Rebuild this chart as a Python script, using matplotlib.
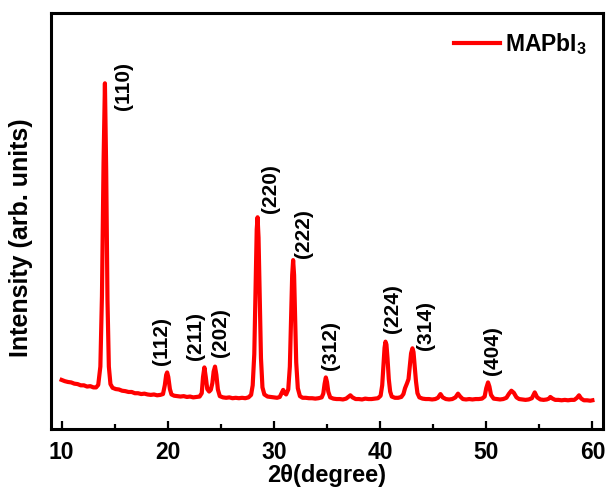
import matplotlib
matplotlib.use("Agg")
import matplotlib.pyplot as plt

plt.rcParams["font.family"] = ["Liberation Sans", "DejaVu Sans"]
plt.rcParams["font.weight"] = "bold"
plt.rcParams["mathtext.fontset"] = "custom"
plt.rcParams["mathtext.rm"] = "Liberation Sans:bold"
plt.rcParams["mathtext.bf"] = "Liberation Sans:bold"

# XRD pattern of MAPbI3 film (2-theta in degrees, intensity in arbitrary units)
two_theta = [
    10.0, 10.3, 10.6, 10.9, 11.2, 11.5, 11.8, 12.1, 12.4, 12.7, 13.0, 13.25,
    13.45, 13.65, 13.8, 13.95, 14.08, 14.2, 14.32, 14.45, 14.6, 14.8,
    15.1, 15.4, 15.7, 16.0, 16.3, 16.6, 16.9, 17.2, 17.5, 17.8, 18.1, 18.4,
    18.7, 19.0, 19.3, 19.55, 19.72, 19.85, 19.94, 20.05, 20.2, 20.35,
    20.6, 20.9, 21.2, 21.5, 21.8, 22.1, 22.4, 22.7, 23.0, 23.2,
    23.32, 23.45, 23.58, 23.72, 23.9, 24.05, 24.2, 24.32, 24.45, 24.58, 24.72,
    24.9, 25.2, 25.5, 25.8, 26.1, 26.4, 26.7, 27.0, 27.3, 27.6, 27.85,
    28.0, 28.15, 28.28, 28.38, 28.46, 28.55, 28.65, 28.78, 28.92,
    29.1, 29.4, 29.7, 30.0, 30.3, 30.55, 30.72, 30.87, 31.0, 31.15,
    31.35, 31.5, 31.62, 31.72, 31.81, 31.9, 32.0, 32.1, 32.25,
    32.45, 32.7, 33.0, 33.3, 33.6, 33.9, 34.2, 34.5, 34.65, 34.77, 34.89,
    35.0, 35.12, 35.3, 35.6, 35.9, 36.2, 36.5, 36.8, 37.0, 37.2, 37.4,
    37.7, 38.0, 38.3, 38.6, 38.9, 39.2, 39.5, 39.8, 40.05, 40.2, 40.32,
    40.42, 40.51, 40.6, 40.7, 40.82, 40.95, 41.1, 41.4, 41.7, 42.0, 42.2,
    42.35, 42.54, 42.68, 42.8, 42.92, 43.05, 43.15, 43.25, 43.38, 43.52,
    43.7, 44.0, 44.3, 44.6, 44.9, 45.2, 45.45, 45.69, 45.9, 46.2, 46.5,
    46.8, 47.1, 47.34, 47.55, 47.8, 48.1, 48.4, 48.7, 49.0, 49.3, 49.6,
    49.85, 50.0, 50.17, 50.3, 50.45, 50.7, 51.0, 51.3, 51.6, 51.9, 52.15,
    52.37, 52.6, 52.85, 53.1, 53.4, 53.7, 54.0, 54.3, 54.57, 54.8, 55.1,
    55.4, 55.7, 55.9, 56.04, 56.25, 56.5, 56.8, 57.1, 57.4, 57.7, 58.0,
    58.3, 58.55, 58.74, 58.95, 59.2, 59.5, 59.8, 60.0,
]
intensity = [
    11.8, 11.5, 11.3, 11.2, 10.9, 10.8, 10.5, 10.5, 10.2, 10.3, 10.0, 10.0,
    10.6, 15.0, 32.0, 64.0, 83.1, 62.0, 31.0, 15.0, 10.8, 9.9,
    9.6, 9.5, 9.2, 9.1, 8.9, 8.9, 8.6, 8.6, 8.4, 8.5, 8.3, 8.2,
    8.3, 8.1, 8.2, 8.4, 10.5, 13.0, 13.6, 12.5, 9.6, 8.3,
    8.0, 7.9, 7.8, 7.9, 7.7, 7.8, 7.6, 7.7, 7.8, 8.6,
    12.5, 14.8, 12.5, 9.6, 9.0, 9.4, 11.0, 13.8, 15.0, 13.0, 9.5,
    7.9, 7.6, 7.5, 7.6, 7.4, 7.5, 7.4, 7.5, 7.4, 7.6, 8.2,
    10.5, 18.0, 35.0, 48.0, 50.9, 46.0, 33.0, 17.0, 10.0,
    8.3, 7.8, 7.7, 7.6, 7.5, 7.7, 8.6, 9.4, 8.7, 8.3,
    9.5, 15.0, 27.0, 37.0, 40.6, 37.0, 27.0, 16.0, 9.8,
    7.9, 7.5, 7.5, 7.4, 7.4, 7.3, 7.4, 7.6, 8.5, 10.8, 12.4,
    11.3, 9.0, 7.6, 7.3, 7.2, 7.2, 7.1, 7.3, 7.7, 8.1, 7.6,
    7.2, 7.2, 7.1, 7.3, 7.2, 7.2, 7.3, 7.4, 8.0, 10.5, 15.5,
    19.5, 21.0, 20.3, 17.0, 12.0, 9.0, 7.8, 7.5, 7.5, 7.7, 8.4,
    9.8, 11.0, 12.0, 15.0, 18.2, 19.4, 18.5, 15.5, 11.5, 8.6,
    7.6, 7.3, 7.2, 7.2, 7.1, 7.2, 7.5, 8.4, 7.6, 7.2, 7.1,
    7.2, 7.6, 8.5, 7.8, 7.2, 7.1, 7.2, 7.1, 7.2, 7.2, 7.3,
    7.8, 9.8, 11.2, 10.2, 8.2, 7.3, 7.2, 7.1, 7.2, 7.5, 8.5,
    9.2, 8.7, 7.6, 7.2, 7.1, 7.0, 7.1, 7.4, 8.8, 7.6, 7.1,
    7.0, 7.1, 7.3, 7.7, 7.3, 7.0, 7.0, 6.9, 7.0, 6.9, 7.0,
    7.0, 7.5, 8.1, 7.3, 6.9, 6.9, 6.8, 6.9,
]

# Miller indices of the indexed reflections and where their labels sit
hkl_labels = ["(110)", "(112)", "(211)", "(202)", "(220)",
              "(222)", "(312)", "(224)", "(314)", "(404)"]
label_x = [15.8, 19.45, 22.6, 25.0, 29.65, 32.8, 35.3, 41.2, 44.3, 50.6]
label_y = [76.7, 15.4, 16.6, 17.4, 51.9, 41.1, 14.2, 23.1, 19.0, 13.0]

x_ticks = [10, 20, 30, 40, 50, 60]
x_minor = [15, 25, 35, 45, 55]

fig = plt.figure(figsize=(6.06, 4.90), dpi=100)
ax = fig.add_axes([51 / 606, 1 - 429 / 490, 552 / 606, 416 / 490])

ax.plot(two_theta, intensity, color="#ff0000", lw=3.0,
        solid_joinstyle="round", label="MAPbI$_{3}$")

for lab, lx, ly in zip(hkl_labels, label_x, label_y):
    ax.text(lx, ly, lab, rotation=90, ha="center", va="bottom",
            fontsize=15, fontweight="bold", color="black")

ax.set_xlim(9, 61)
ax.set_ylim(0, 100)
ax.set_xticks(x_ticks)
ax.set_xticks(x_minor, minor=True)
ax.set_yticks([])
ax.tick_params(axis="x", which="major", direction="in", length=6, width=1.6,
               labelsize=16.5, pad=8.5)
ax.tick_params(axis="x", which="minor", direction="in", length=3.5, width=1.6)
for lbl in ax.get_xticklabels():
    lbl.set_fontweight("bold")
for sp in ax.spines.values():
    sp.set_linewidth(2.2)

ax.set_xlabel("2θ(degree)", fontsize=17, fontweight="bold")
ax.xaxis.set_label_coords(0.5, -0.085)
ax.set_ylabel("Intensity (arb. units)", fontsize=18, fontweight="bold")
ax.yaxis.set_label_coords(-0.032, 0.46)

leg = ax.legend(loc="center right", bbox_to_anchor=(0.97, 0.925),
                frameon=False, fontsize=16.5, handlelength=2.0,
                handletextpad=0.2, borderpad=0, borderaxespad=0)
for t in leg.get_texts():
    t.set_fontweight("bold")

fig.savefig("out.png", dpi=100)
